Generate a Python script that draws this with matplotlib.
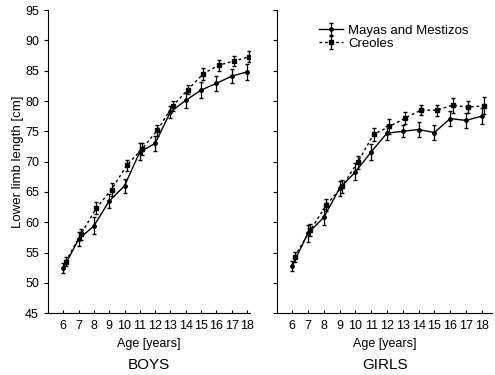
import numpy as np
import matplotlib.pyplot as plt

plt.rcParams['font.family'] = ['Liberation Sans', 'DejaVu Sans']

ages = np.arange(6, 19)

boys_maya = [52.4, 57.2, 59.4, 63.5, 66.0, 71.6, 73.0, 78.2, 80.1, 81.8, 82.9, 84.1, 84.8]
boys_maya_err = [0.8, 1.2, 1.4, 1.2, 1.2, 1.4, 1.2, 1.0, 1.3, 1.3, 1.2, 1.2, 1.3]
boys_creole = [53.5, 58.0, 62.3, 65.4, 69.4, 72.1, 75.2, 79.2, 81.9, 84.5, 85.9, 86.6, 87.3]
boys_creole_err = [0.7, 0.9, 1.0, 1.0, 0.9, 1.0, 0.9, 0.8, 0.8, 1.0, 0.9, 0.9, 0.9]

girls_maya = [52.8, 58.2, 60.8, 65.6, 68.3, 71.6, 74.7, 75.0, 75.3, 74.8, 77.1, 76.8, 77.5]
girls_maya_err = [0.8, 1.4, 1.3, 1.2, 1.4, 1.3, 1.2, 1.0, 1.3, 1.3, 1.3, 1.3, 1.3]
girls_creole = [54.3, 58.7, 62.8, 65.9, 69.9, 74.5, 75.8, 77.2, 78.5, 78.5, 79.3, 79.0, 79.2]
girls_creole_err = [0.8, 1.0, 1.0, 1.0, 1.1, 1.1, 1.2, 1.0, 0.8, 0.9, 1.2, 1.0, 1.4]

shift = 0.15

fig = plt.figure(figsize=(4.95, 3.75), dpi=100)
ax1 = fig.add_axes([0.097, 0.165, 0.408, 0.808])
ax2 = fig.add_axes([0.56, 0.165, 0.434, 0.808])

for ax, m, me, c, ce, name in [(ax1, boys_maya, boys_maya_err, boys_creole, boys_creole_err, 'BOYS'),
                               (ax2, girls_maya, girls_maya_err, girls_creole, girls_creole_err, 'GIRLS')]:
    ax.errorbar(ages, m, yerr=me, color='black', lw=1.0, marker='o', ms=2.5,
                capsize=1.2, elinewidth=0.9, label='Mayas and Mestizos')
    ax.errorbar(ages + shift, c, yerr=ce, color='black', lw=1.0, ls=(0, (2, 2)), marker='s', ms=3.5,
                capsize=1.2, elinewidth=0.9, label='Creoles')
    ax.set_ylim(45, 95)
    ax.set_yticks(np.arange(45, 96, 5))
    ax.set_xticks(ages)
    ax.spines['top'].set_visible(False)
    ax.spines['right'].set_visible(False)
    ax.tick_params(axis='x', direction='in', length=2.5, labelsize=9, pad=5)
    ax.tick_params(axis='y', direction='out', length=3, labelsize=9)
    ax.set_xlabel('Age [years]', fontsize=9, labelpad=4)
    ax.text(0.5, -0.172, name, transform=ax.transAxes, ha='center', va='center', fontsize=11)

ax1.set_xlim(5.0, 18.2)
ax2.set_xlim(5.05, 18.65)
ax1.set_ylabel('Lower limb length [cm]', fontsize=9.5, labelpad=1)
ax2.set_yticklabels([])

leg = ax2.legend(loc='upper left', bbox_to_anchor=(0.17, 0.97), frameon=False, fontsize=9.5,
                 handlelength=1.8, handletextpad=0.4, labelspacing=0.05, borderaxespad=0)

fig.savefig('out.png')
